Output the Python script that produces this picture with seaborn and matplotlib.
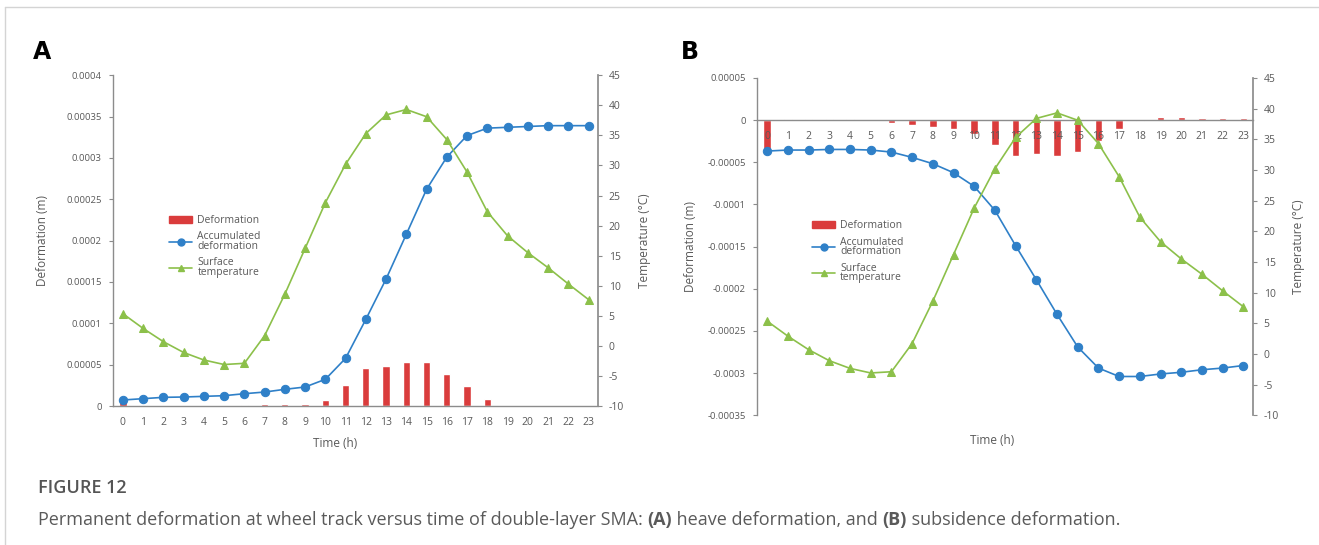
import seaborn as sns
import matplotlib.pyplot as plt
import matplotlib.ticker as ticker
from matplotlib.patches import Patch
from matplotlib.lines import Line2D

hours = list(range(24))

# Panel A - heave deformation
defA = [7.0e-6, 1.6e-6, 0.5e-6, 0.5e-6, 0.5e-6, 0.5e-6, 1.6e-6, 2.0e-6, 2.0e-6, 2.4e-6, 7.3e-6, 2.5e-5,
        4.6e-5, 4.8e-5, 5.3e-5, 5.3e-5, 3.9e-5, 2.4e-5, 8.1e-6, 0.3e-6, 0.3e-6, 0.3e-6, 0.3e-6, 0.3e-6]
accA = [7.3e-6, 8.9e-6, 1.05e-5, 1.09e-5, 1.17e-5, 1.25e-5, 1.49e-5, 1.69e-5, 2.02e-5, 2.3e-5, 3.23e-5, 5.77e-5,
        1.048e-4, 1.536e-4, 2.077e-4, 2.62e-4, 3.01e-4, 3.27e-4, 3.36e-4, 3.37e-4, 3.38e-4, 3.39e-4, 3.39e-4, 3.39e-4]

# Panel B - subsidence deformation
defB = [-3.6e-5, 1e-6, 1e-6, 1e-6, 1e-6, 0.2e-6, -3e-6, -5.5e-6, -8.7e-6, -1.0e-5, -1.6e-5, -2.9e-5,
        -4.2e-5, -4.0e-5, -4.2e-5, -3.8e-5, -2.5e-5, -1.0e-5, -0.8e-6, 3.2e-6, 3.2e-6, 2.0e-6, 2.0e-6, 2.0e-6]
accB = [-3.67e-5, -3.55e-5, -3.55e-5, -3.48e-5, -3.48e-5, -3.55e-5, -3.79e-5, -4.42e-5, -5.17e-5, -6.24e-5,
        -7.86e-5, -1.07e-4, -1.489e-4, -1.892e-4, -2.303e-4, -2.69e-4, -2.94e-4, -3.04e-4, -3.04e-4, -3.01e-4,
        -2.99e-4, -2.96e-4, -2.94e-4, -2.91e-4]

# surface temperature (same in both panels)
temp = [5.35, 2.9, 0.7, -1.1, -2.35, -3.1, -2.9, 1.7, 8.6, 16.2, 23.8, 30.2,
        35.3, 38.4, 39.3, 38.1, 34.3, 28.9, 22.3, 18.3, 15.5, 13.0, 10.3, 7.7]

legend_labels = ['Deformation', 'Accumulated\ndeformation', 'Surface\ntemperature']

sns.set_theme(style="white")
plt.rcParams['font.family'] = ['Open Sans', 'DejaVu Sans']
plt.rcParams['axes.unicode_minus'] = False

red, blue, green = '#da3c3c', '#2f80c8', '#8cc04a'
grey, txt = '#8c8c8c', '#595959'

fig = plt.figure(figsize=(13.19, 5.45), dpi=100)
axA = fig.add_axes([0.0855, 0.255, 0.3676, 0.607])
axB = fig.add_axes([0.5738, 0.238, 0.3759, 0.619])


def fmt_dec(v, pos):
    s = f"{round(v, 6):.5f}".rstrip('0').rstrip('.')
    return '0' if s in ('-0', '0') else s


def draw_panel(ax, defo, acc, ylim, ystep, ylab_x, tlab_x, xlab_xy, leg_xy):
    ax.set_axisbelow(False)
    sns.barplot(x=hours, y=defo, color=red, width=0.36, saturation=1, ax=ax, zorder=1.5)
    sns.lineplot(x=hours, y=acc, ax=ax, color=blue, marker='o', markersize=6, markeredgecolor=blue,
                 linewidth=1.2, zorder=3)
    ax.set_xlim(-0.5, 23.45)
    ax.set_ylim(*ylim)
    ax.yaxis.set_major_locator(ticker.MultipleLocator(ystep))
    ax.yaxis.set_major_formatter(ticker.FuncFormatter(fmt_dec))
    for s in ['top', 'right']:
        ax.spines[s].set_visible(False)
    for s in ['left', 'bottom']:
        ax.spines[s].set_color(grey)
        ax.spines[s].set_linewidth(1.0)
    ax.tick_params(axis='y', left=True, length=3, width=0.8, color=grey, labelsize=6.8, labelcolor=txt, pad=5)
    ax.tick_params(axis='x', bottom=False, length=0, labelsize=7.5, labelcolor=txt, pad=8)
    ax.set_xlabel('')
    ax.set_ylabel('Deformation (m)', fontsize=8.5, color=txt)
    ax.yaxis.set_label_coords(ylab_x, 0.5)
    ax.text(xlab_xy[0], xlab_xy[1], 'Time (h)', transform=ax.transAxes, ha='center', va='center',
            fontsize=8.5, color=txt)

    ax2 = ax.twinx()
    sns.lineplot(x=hours, y=temp, ax=ax2, color=green, marker='^', markersize=6, markeredgecolor=green,
                 linewidth=1.2)
    ax2.set_ylim(-10, 45)
    ax2.yaxis.set_major_locator(ticker.MultipleLocator(5))
    for s in ['top', 'left', 'bottom']:
        ax2.spines[s].set_visible(False)
    ax2.spines['right'].set_color(grey)
    ax2.tick_params(axis='y', right=True, length=3, width=0.8, color=grey, labelsize=7.5, labelcolor=txt, pad=5)
    ax2.set_ylabel('Temperature (°C)', fontsize=8.5, color=txt)
    ax2.yaxis.set_label_coords(tlab_x, 0.5)

    handles = [Patch(facecolor=red, edgecolor=red),
               Line2D([], [], color=blue, marker='o', markersize=5, linewidth=1.2),
               Line2D([], [], color=green, marker='^', markersize=5, linewidth=1.2)]
    leg = ax2.legend(handles, legend_labels, loc='upper left', bbox_to_anchor=leg_xy, frameon=False,
                     fontsize=7.5, handlelength=2.2, handletextpad=0.5, labelspacing=0.5, borderaxespad=0)
    for t in leg.get_texts():
        t.set_color(txt)
        t.set_linespacing(0.85)
    return ax2


draw_panel(axA, defA, accA, (0, 0.0004), 0.00005, -0.132, 1.084, (0.458, -0.112), (0.108, 0.59))
draw_panel(axB, defB, accB, (-0.00035, 0.00005), 0.00005, -0.121, 1.08, (0.475, -0.075), (0.103, 0.59))
axB.spines['bottom'].set_position(('data', 0))

fig.text(42 / 1319, 1 - 52 / 545, 'A', fontsize=17, fontweight='bold', ha='center', va='center',
         family='DejaVu Sans', color='black')
fig.text(690 / 1319, 1 - 52 / 545, 'B', fontsize=17, fontweight='bold', ha='center', va='center',
         family='DejaVu Sans', color='black')

# page frame lines
fig.add_artist(Line2D([5 / 1319, 1], [1 - 7 / 545, 1 - 7 / 545], transform=fig.transFigure, color='#d4d4d4', lw=1))
fig.add_artist(Line2D([5 / 1319, 5 / 1319], [0, 1 - 7 / 545], transform=fig.transFigure, color='#d4d4d4', lw=1))

# caption
fig.text(38 / 1319, 1 - 488 / 545, 'FIGURE 12', fontsize=13, fontweight='semibold', color='#555555',
         va='center', family='Open Sans')
pieces = [('Permanent deformation at wheel track versus time of double-layer SMA: ', 'normal'),
          ('(A)', 'bold'), (' heave deformation, and ', 'normal'), ('(B)', 'bold'),
          (' subsidence deformation.', 'normal')]
renderer = fig.canvas.get_renderer()
x = 38 / 1319
for s, w in pieces:
    t = fig.text(x, 1 - 520 / 545, s, fontsize=13, fontweight=w, color='#5a5a5a', va='center',
                 family='Open Sans')
    bb = t.get_window_extent(renderer)
    x += bb.width / fig.bbox.width

fig.savefig('out.png', dpi=100)
